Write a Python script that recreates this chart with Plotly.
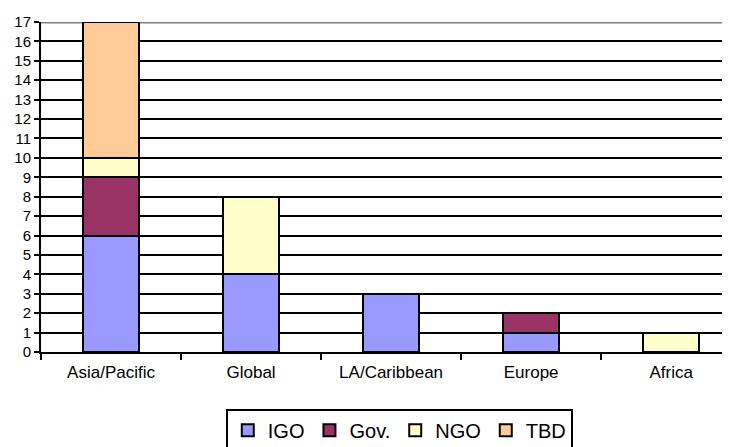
import plotly.graph_objects as go

categories = ["Asia/Pacific", "Global", "LA/Caribbean", "Europe", "Africa"]
igo = [6, 4, 3, 1, 0]
gov = [3, 0, 0, 1, 0]
ngo = [1, 4, 0, 0, 1]
tbd = [7, 0, 0, 0, 0]

series = [("IGO", igo, "#9999FF"), ("Gov.", gov, "#993366"),
          ("NGO", ngo, "#FFFFCC"), ("TBD", tbd, "#FFCC99")]

fig = go.Figure()
for name, vals, col in series:
    fig.add_trace(go.Bar(x=categories, y=vals, name=name,
                         marker=dict(color=col, line=dict(color="black", width=2))))

fig.update_layout(
    barmode="stack", bargap=0.6,
    width=722, height=439,
    margin=dict(l=33, r=0, t=14, b=95, autoexpand=False),
    paper_bgcolor="white", plot_bgcolor="white",
    font=dict(family="Arial, Liberation Sans", color="black"),
    xaxis=dict(type="category", range=[-0.5, 4.42], tickson="boundaries",
               ticks="outside", ticklen=6, tickwidth=2, tickcolor="black",
               showline=True, linecolor="black", linewidth=2, automargin=False,
               tickfont=dict(size=17), ticklabelstandoff=4, showgrid=False),
    yaxis=dict(range=[0, 17], dtick=1, tick0=0, ticks="outside", ticklen=5,
               tickwidth=2, tickcolor="black", showline=True, linecolor="black",
               linewidth=2, gridcolor="black", gridwidth=2, tickfont=dict(size=15),
               zeroline=False, automargin=False),
    legend=dict(orientation="h", x=0.52, xanchor="center", y=-0.172, yanchor="top",
                bordercolor="black", borderwidth=2, font=dict(size=20),
                itemwidth=30, traceorder="normal", tracegroupgap=0),
    shapes=[dict(type="line", xref="paper", yref="y", x0=0, x1=1, y0=17, y1=17,
                 line=dict(color="#808080", width=3), layer="between")],
)
fig.write_html("out.html")
